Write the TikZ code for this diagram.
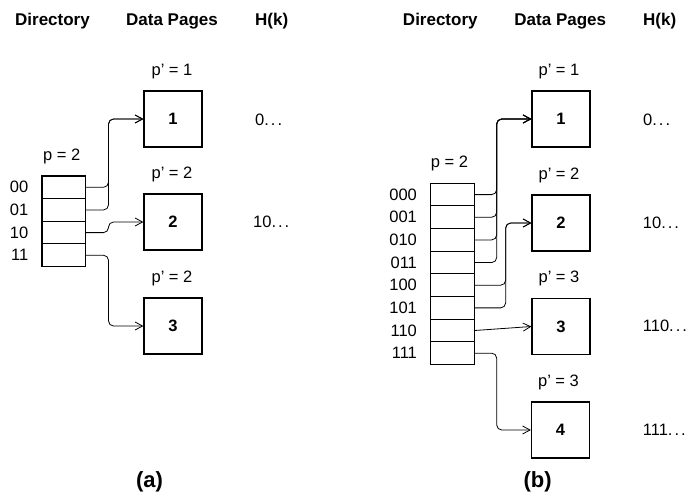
\documentclass[tikz,border=0pt]{standalone}
\usepackage{fontspec}
\setmainfont{Liberation Sans}
\usetikzlibrary{arrows.meta,calc}
\newcommand\hkdots{.\kern2pt.\kern2pt.}
\begin{document}
\begin{tikzpicture}[x=1pt,y=-1pt,
  hdr/.style={font=\fontsize{17}{20}\selectfont\bfseries, inner sep=0pt, anchor=base},
  txt/.style={font=\fontsize{16.5}{19}\selectfont, inner sep=0pt},
  plab/.style={txt, anchor=base},
  page/.style={draw, line width=1.2pt, minimum width=58pt, minimum height=56pt, inner sep=0pt, font=\fontsize{16.5}{19}\selectfont\bfseries},
  cell/.style={draw, line width=1.1pt, minimum width=43.5pt, minimum height=22.65pt, inner sep=0pt},
  conn/.style={line width=0.8pt, rounded corners=5pt, -{Straight Barb[length=7.5pt,width=8pt]}},
  captxt/.style={font=\fontsize{22}{26}\selectfont\bfseries, inner sep=0pt, anchor=base}]
\useasboundingbox (0,0) rectangle (689,496);

% ---------- (a) ----------
\node[hdr] (hdA) at (52.5,25) {Directory};
\node[hdr] (hpA) at (172,25) {Data Pages};
\node[hdr, anchor=base west] (hhA) at (255,25) {H(k)};

\foreach \i/\lab in {0/00,1/01,2/10,3/11}{
  \node[cell] (a\i) at (63.7,{187.3+22.65*\i}) {};
  \node[txt, anchor=east] (la\i) at ($(a\i.west)+(-13,0)$) {\lab};
}
\node[plab] (pa) at ($(a0.north)+(-2,-15)$) {p = 2};

\node[page] (A1) at (173,119) {1};
\node[page] (A2) at (173,222) {2};
\node[page] (A3) at (173,326) {3};
\node[plab] (pA1) at ($(A1.north)+(-1,-15)$) {p' = 1};
\node[plab] (pA2) at ($(A2.north)+(-1,-15)$) {p' = 2};
\node[plab] (pA3) at ($(A3.north)+(-1,-15)$) {p' = 2};

\node[txt, anchor=west] (kA1) at (255,120) {0\hkdots};
\node[txt, anchor=west] (kA2) at (253,222) {10\hkdots};

\coordinate (abus) at (108.5,0);
\draw[conn] (a0.east) -- (a0.east -| abus) |- (A1.west);
\draw[conn] (a1.east) -- (a1.east -| abus) |- (A1.west);
\draw[conn] (a2.east) -- (a2.east -| abus) |- (A2.west);
\draw[conn] (a3.east) -- (a3.east -| abus) |- (A3.west);

\node[captxt] (capA) at (149.5,487) {(a)};

% ---------- (b) ----------
\node[hdr] (hdB) at (440.3,25) {Directory};
\node[hdr] (hpB) at (560.3,25) {Data Pages};
\node[hdr, anchor=base west] (hhB) at (643,25) {H(k)};

\foreach \i/\lab in {0/000,1/001,2/010,3/011,4/100,5/101,6/110,7/111}{
  \node[cell] (b\i) at (452.4,{194.6+22.65*\i}) {};
  \node[txt, anchor=east] (lb\i) at ($(b\i.west)+(-13,0)$) {\lab};
}
\node[plab] (pb) at ($(b0.north)+(-3,-15)$) {p = 2};

\node[page] (B1) at (561,119) {1};
\node[page] (B2) at (561,223) {2};
\node[page] (B3) at (561,326.5) {3};
\node[page] (B4) at (560.5,430) {4};
\node[plab] (pB1) at ($(B1.north)+(-2,-15)$) {p' = 1};
\node[plab] (pB2) at ($(B2.north)+(-2,-15)$) {p' = 2};
\node[plab] (pB3) at ($(B3.north)+(-2,-15)$) {p' = 3};
\node[plab] (pB4) at ($(B4.north)+(-2,-15)$) {p' = 3};

\node[txt, anchor=west] (kB1) at (643,120) {0\hkdots};
\node[txt, anchor=west] (kB2) at (642.7,223) {10\hkdots};
\node[txt, anchor=west] (kB3) at (642.7,326) {110\hkdots};
\node[txt, anchor=west] (kB4) at (642.7,430) {111\hkdots};

\coordinate (bbus1) at (496.7,0);
\coordinate (bbus2) at (505.7,0);
\draw[conn] (b0.east) -- (b0.east -| bbus1) |- (B1.west);
\draw[conn] (b1.east) -- (b1.east -| bbus1) |- (B1.west);
\draw[conn] (b2.east) -- (b2.east -| bbus1) |- (B1.west);
\draw[conn] (b3.east) -- (b3.east -| bbus1) |- (B1.west);
\draw[conn] (b4.east) -- (b4.east -| bbus2) |- (B2.west);
\draw[conn] (b5.east) -- (b5.east -| bbus2) |- (B2.west);
\draw[conn] (b6.east) -- (B3.west);
\draw[conn] (b7.east) -- (b7.east -| bbus1) |- (B4.west);

\node[captxt] (capB) at (537.7,487) {(b)};
\end{tikzpicture}
\end{document}
